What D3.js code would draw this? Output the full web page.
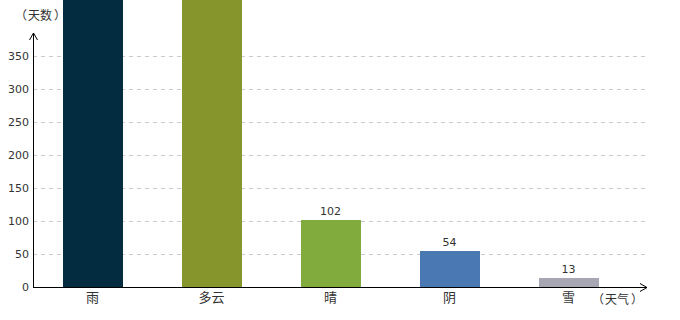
<!DOCTYPE html>
<html>
<head>
<meta charset="utf-8">
<script src="https://cdn.jsdelivr.net/npm/d3@7"></script>
<style>
  body { margin: 0; background: #fff; }
  text { font-family: "DejaVu Sans", "Noto Sans CJK SC", sans-serif; }
  .cjk { font-family: "Noto Sans CJK SC", sans-serif; }
</style>
</head>
<body>
<div id="chart"></div>
<script>
const categories = ['雨', '多云', '晴', '阴', '雪'];
const days = [480, 460, 102, 54, 13];
const colors = ['#032c41', '#87962c', '#82ab3e', '#4a78b2', '#a6a7b3'];
const yTicks = [0, 50, 100, 150, 200, 250, 300, 350];

const W = 680, H = 320;
const x0 = 33, y0 = 287;

const svg = d3.select('#chart').append('svg')
    .attr('width', W).attr('height', H);

const x = d3.scaleBand().domain(categories).range([x0, 628])
    .paddingInner(0.5).paddingOuter(0.25);
const y = d3.scaleLinear().domain([0, 350]).range([y0, 56]);

// grid
svg.append('g').selectAll('line').data(yTicks.slice(1)).join('line')
    .attr('x1', x0).attr('x2', 646)
    .attr('y1', d => Math.round(y(d)) + 0.5).attr('y2', d => Math.round(y(d)) + 0.5)
    .attr('stroke', '#ccc').attr('stroke-dasharray', '4,4');

// bars
const rows = days.map((d, i) => ({ cat: categories[i], v: d, c: colors[i] }));
svg.append('g').selectAll('rect').data(rows).join('rect')
    .attr('x', d => Math.round(x(d.cat)))
    .attr('width', Math.round(x.bandwidth()))
    .attr('y', d => Math.round(y(d.v)))
    .attr('height', d => y0 - Math.round(y(d.v)))
    .attr('fill', d => d.c);

// value labels (those running past the top are off the picture, as in the original)
svg.append('g').selectAll('text').data(rows.filter(d => y(d.v) - 16 > 0)).join('text')
    .attr('x', d => x(d.cat) + x.bandwidth() / 2)
    .attr('y', d => y(d.v) - 5)
    .attr('text-anchor', 'middle')
    .attr('font-size', 11).attr('fill', '#333')
    .text(d => d.v);

// y tick labels
svg.append('g').selectAll('text').data(yTicks).join('text')
    .attr('x', 29).attr('y', d => y(d) + 4)
    .attr('text-anchor', 'end')
    .attr('font-size', 11).attr('fill', '#333')
    .text(d => d);

// category labels
svg.append('g').selectAll('text').data(categories).join('text')
    .attr('class', 'cjk')
    .attr('x', d => x(d) + x.bandwidth() / 2)
    .attr('y', 302)
    .attr('text-anchor', 'middle')
    .attr('font-size', 13).attr('fill', '#333')
    .text(d => d);

// axes with arrows
const axis = svg.append('g').attr('stroke', '#000').attr('fill', 'none');
axis.append('path').attr('d', `M${x0 + 0.5},${y0 + 0.5}V33`);
axis.append('path').attr('d', `M${x0 - 3.5},40L${x0 + 0.5},33L${x0 + 4.5},40`);
axis.append('path').attr('d', `M${x0},${y0 + 0.5}H647`);
axis.append('path').attr('d', `M640,${y0 - 3.5}L647,${y0 + 0.5}L640,${y0 + 4.5}`);

// axis titles, brackets spaced out a little
function title(left, base, word) {
    const t = svg.append('text').attr('class', 'cjk')
        .attr('x', left).attr('y', base)
        .attr('font-size', 12).attr('fill', '#333');
    t.append('tspan').text('（');
    t.append('tspan').attr('dx', 1).text(word);
    t.append('tspan').attr('dx', 2).text('）');
}
title(15, 20, '天数');
title(592, 304, '天气');
</script>
</body>
</html>
